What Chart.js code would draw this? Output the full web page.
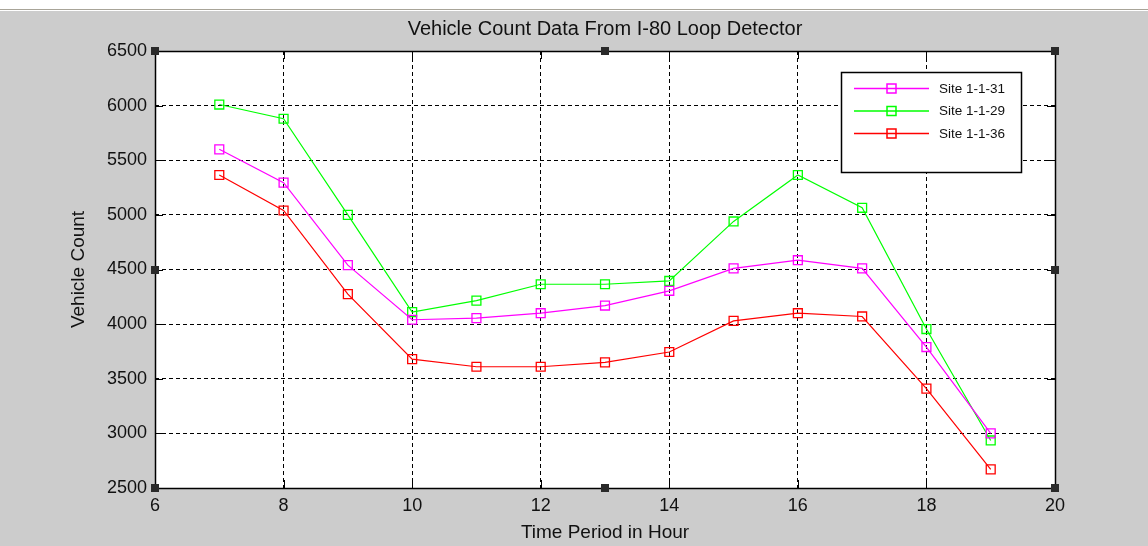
<!DOCTYPE html>
<html>
<head>
<meta charset="utf-8">
<script src="https://cdn.jsdelivr.net/npm/chart.js@4/dist/chart.umd.min.js"></script>
<style>
  html, body { margin: 0; padding: 0; background: #cccccc; overflow: hidden; }
  #c { display: block; }
</style>
</head>
<body>
<canvas id="c" width="1148" height="546"></canvas>
<script>
// hours on x axis
const hours = [7, 8, 9, 10, 11, 12, 13, 14, 15, 16, 17, 18, 19]
// vehicle counts per site
const site31 = [5600, 5295, 4540, 4040, 4055, 4100, 4170, 4305, 4510, 4585, 4510, 3790, 3000]
const site29 = [6010, 5880, 5000, 4110, 4215, 4365, 4365, 4395, 4940, 5365, 5065, 3955, 2935]
const site36 = [5365, 5040, 4275, 3680, 3610, 3610, 3650, 3745, 4030, 4100, 4070, 3410, 2670]
const siteNames = ['Site 1-1-31', 'Site 1-1-29', 'Site 1-1-36']
const siteColors = ['#ff00ff', '#00ff00', '#ff0000']
const chartTitle = 'Vehicle Count Data From I-80 Loop Detector'

const FONT = '"Liberation Sans", Arial, sans-serif'

function toPoints(vals) {
  return vals.map((v, i) => ({ x: hours[i], y: v }))
}

// grey figure background + white axes area
const bgPlugin = {
  id: 'bg',
  beforeDraw(chart) {
    const ctx = chart.ctx
    const a = chart.chartArea
    ctx.save()
    ctx.fillStyle = '#cccccc'
    ctx.fillRect(0, 0, chart.width, chart.height)
    ctx.fillStyle = '#ffffff'
    ctx.fillRect(0, 0, chart.width, 9)
    ctx.fillStyle = '#a8a498'
    ctx.fillRect(0, 9, chart.width, 1)
    ctx.fillStyle = '#ffffff'
    ctx.fillRect(0, 10, chart.width, 1)
    ctx.fillStyle = '#ffffff'
    ctx.fillRect(a.left, a.top, a.right - a.left, a.bottom - a.top)
    // title centred over the axes, like matlab
    ctx.fillStyle = '#111'
    ctx.font = '20px ' + FONT
    ctx.textAlign = 'center'
    ctx.textBaseline = 'middle'
    ctx.fillText(chartTitle, (a.left + a.right) / 2, 29)
    ctx.restore()
  }
}

// matlab style box, inward ticks, selection handles and legend
const boxPlugin = {
  id: 'box',
  afterDatasetsDraw(chart) {
    const ctx = chart.ctx
    const a = chart.chartArea
    const xs = chart.scales.x
    const ys = chart.scales.y
    ctx.save()
    ctx.strokeStyle = '#000'
    ctx.lineWidth = 1
    ctx.beginPath()
    xs.ticks.forEach(t => {
      const px = Math.round(xs.getPixelForValue(t.value)) + 0.5
      ctx.moveTo(px, a.top); ctx.lineTo(px, a.top + 8)
      ctx.moveTo(px, a.bottom); ctx.lineTo(px, a.bottom - 8)
    })
    ys.ticks.forEach(t => {
      const py = Math.round(ys.getPixelForValue(t.value)) + 0.5
      ctx.moveTo(a.left, py); ctx.lineTo(a.left + 8, py)
      ctx.moveTo(a.right, py); ctx.lineTo(a.right - 8, py)
    })
    ctx.stroke()
    ctx.lineWidth = 1.5
    ctx.strokeRect(Math.round(a.left) + 0.5, Math.round(a.top) + 0.5, Math.round(a.right - a.left), Math.round(a.bottom - a.top))

    // handles
    const midX = (a.left + a.right) / 2
    const midY = (a.top + a.bottom) / 2
    const hs = [[a.left, a.top], [midX, a.top], [a.right, a.top], [a.left, midY], [a.right, midY], [a.left, a.bottom], [midX, a.bottom], [a.right, a.bottom]]
    ctx.fillStyle = '#2a2a2a'
    hs.forEach(h => ctx.fillRect(Math.round(h[0]) - 4, Math.round(h[1]) - 4, 8, 8))

    // legend
    const lx = 841, ly = 72, lw = 180, lh = 100
    ctx.fillStyle = '#fff'
    ctx.fillRect(lx, ly, lw, lh)
    ctx.lineWidth = 1.5
    ctx.strokeStyle = '#000'
    ctx.strokeRect(lx + 0.5, ly + 0.5, lw, lh)
    ctx.font = '13.5px ' + FONT
    ctx.textBaseline = 'middle'
    chart.data.datasets.forEach((ds, i) => {
      const y = ly + 16 + i * 22.5
      ctx.strokeStyle = ds.borderColor
      ctx.lineWidth = 1.5
      ctx.beginPath()
      ctx.moveTo(lx + 13, y + 0.5); ctx.lineTo(lx + 88, y + 0.5)
      ctx.stroke()
      ctx.strokeRect(lx + 46, y - 4, 9, 9)
      ctx.fillStyle = '#111'
      ctx.fillText(ds.label, lx + 98, y + 1)
    })
    ctx.restore()
  }
}

new Chart(document.getElementById('c'), {
  type: 'line',
  data: {
    datasets: [site31, site29, site36].map((vals, i) => ({
      label: siteNames[i],
      data: toPoints(vals),
      borderColor: siteColors[i],
      backgroundColor: 'rgba(0,0,0,0)',
      borderWidth: 1.2,
      pointStyle: 'rect',
      pointRadius: 6.3,
      pointBorderWidth: 1.3,
      pointBackgroundColor: 'rgba(0,0,0,0)',
      pointBorderColor: siteColors[i],
      tension: 0
    }))
  },
  options: {
    responsive: false,
    animation: false,
    devicePixelRatio: 1,
    layout: { padding: { top: 51, right: 93, bottom: 0, left: 0 } },
    plugins: {
      legend: { display: false },
      tooltip: { enabled: false },
      title: { display: false }
    },
    scales: {
      x: {
        type: 'linear',
        min: 6,
        max: 20,
        afterFit: s => { s.height = 58 },
        ticks: { stepSize: 2, padding: 7, maxRotation: 0, autoSkip: false, color: '#111', font: { family: FONT, size: 18 }, callback: v => String(v) },
        grid: { color: '#000', lineWidth: 1, drawTicks: false },
        border: { display: false, dash: [4, 3] },
        title: {
          display: true,
          text: 'Time Period in Hour',
          color: '#111',
          font: { family: FONT, size: 19 },
          padding: { top: 0, bottom: 1.5 }
        }
      },
      y: {
        min: 2500,
        max: 6500,
        afterFit: s => { s.width = 155 },
        ticks: { stepSize: 500, padding: 8, autoSkip: false, color: '#111', font: { family: FONT, size: 18 }, callback: v => String(v) },
        grid: { color: '#000', lineWidth: 1, drawTicks: false },
        border: { display: false, dash: [4, 3] },
        title: {
          display: true,
          text: 'Vehicle Count',
          color: '#111',
          font: { family: FONT, size: 19 },
          padding: { top: 67, bottom: 0 }
        }
      }
    }
  },
  plugins: [bgPlugin, boxPlugin]
})
</script>
</body>
</html>
